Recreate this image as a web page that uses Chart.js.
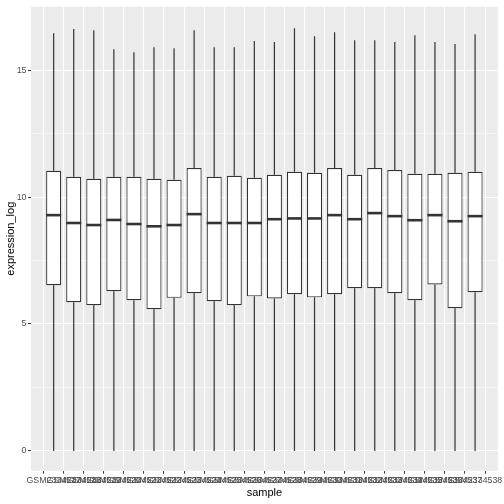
<!DOCTYPE html>
<html>
<head>
<meta charset="utf-8">
<script src="https://cdn.jsdelivr.net/npm/chart.js@4/dist/chart.umd.min.js"></script>
<style>
  html, body { margin: 0; padding: 0; background: #ffffff; }
  #wrap { width: 504px; height: 504px; }
</style>
</head>
<body>
<div id="wrap"><canvas id="c" width="504" height="504"></canvas></div>
<script>
const samples = ["GSM2334517","GSM2334518","GSM2334519","GSM2334520","GSM2334521","GSM2334522",
  "GSM2334523","GSM2334524","GSM2334525","GSM2334526","GSM2334527","GSM2334528",
  "GSM2334529","GSM2334530","GSM2334531","GSM2334532","GSM2334533","GSM2334534",
  "GSM2334535","GSM2334536","GSM2334537","GSM2334538"];
const whiskerMax = [16.46,16.62,16.58,15.83,15.71,15.91,15.87,16.58,15.91,15.91,16.15,
  16.11,16.65,16.34,16.50,16.18,16.18,16.11,16.38,16.11,16.03,16.42];
const upperQuartile = [11.04,10.80,10.72,10.80,10.80,10.72,10.68,11.15,10.80,10.84,10.76,
  10.88,11.00,10.96,11.15,10.88,11.15,11.07,10.92,10.92,10.96,11.00];
const medians = [9.29,8.98,8.90,9.10,8.94,8.85,8.90,9.33,8.98,8.98,8.98,
  9.13,9.16,9.16,9.29,9.13,9.37,9.25,9.09,9.29,9.05,9.25];
const lowerQuartile = [6.53,5.86,5.74,6.29,5.94,5.58,6.03,6.21,5.90,5.74,6.09,
  6.01,6.17,6.05,6.17,6.41,6.41,6.21,5.94,6.56,5.62,6.25];
const whiskerMin = [0,0,0,0,0,0,0,0,0,0,0,0,0,0,0,0,0,0,0,0,0,0];
const yTickValues = [0,2.5,5,7.5,10,12.5,15];

const FONT = "'Liberation Sans', Arial, sans-serif";
const INK = '#333333';

const panelBg = {
  id: 'panelBg',
  beforeDraw(chart) {
    const {ctx, chartArea: a} = chart;
    ctx.save();
    ctx.fillStyle = '#EBEBEB';
    ctx.fillRect(a.left, a.top, a.right - a.left, a.bottom - a.top);
    ctx.restore();
  }
};

const boxParts = {
  id: 'boxParts',
  afterDatasetsDraw(chart) {
    const {ctx} = chart;
    const ys = chart.scales.y;
    const meta = chart.getDatasetMeta(0);
    ctx.save();
    ctx.strokeStyle = INK;
    ctx.lineCap = 'butt';
    meta.data.forEach((el, i) => {
      const p = el.getProps(['x', 'width'], true);
      const x = p.x, w = p.width;
      ctx.lineWidth = 1.2;
      ctx.beginPath();
      ctx.moveTo(x, ys.getPixelForValue(whiskerMax[i]));
      ctx.lineTo(x, ys.getPixelForValue(upperQuartile[i]));
      ctx.moveTo(x, ys.getPixelForValue(lowerQuartile[i]));
      ctx.lineTo(x, ys.getPixelForValue(whiskerMin[i]));
      ctx.stroke();
      ctx.lineWidth = 2.6;
      ctx.beginPath();
      const ym = ys.getPixelForValue(medians[i]);
      ctx.moveTo(x - w / 2, ym);
      ctx.lineTo(x + w / 2, ym);
      ctx.stroke();
    });
    ctx.restore();
  }
};

new Chart(document.getElementById('c'), {
  type: 'bar',
  data: {
    datasets: [{
      data: samples.map((s, i) => ({x: i, y: [lowerQuartile[i], upperQuartile[i]]})),
      backgroundColor: '#FFFFFF',
      borderColor: INK,
      borderWidth: 1.2,
      borderSkipped: false,
      barPercentage: 0.75,
      categoryPercentage: 1.0
    }]
  },
  options: {
    responsive: false,
    animation: false,
    layout: { padding: { top: 5, right: 5.7, left: 0, bottom: 0 } },
    plugins: { legend: { display: false }, tooltip: { enabled: false } },
    scales: {
      x: {
        type: 'linear',
        min: -0.6,
        max: samples.length - 1 + 0.6,
        afterBuildTicks(scale) { scale.ticks = samples.map((s, i) => ({value: i})); },
        afterFit(scale) { scale.height = 33.3; },
        border: { display: false },
        grid: { color: '#FFFFFF', lineWidth: 1.1, drawTicks: true, tickLength: 3, tickColor: INK, tickWidth: 1 },
        ticks: {
          autoSkip: false, maxRotation: 0, minRotation: 0, padding: 1.5,
          color: '#4D4D4D', font: { family: FONT, size: 8.8 },
          callback: (v) => samples[v]
        },
        title: { display: true, text: 'sample', color: '#000000',
          font: { family: FONT, size: 11 }, padding: { top: 0, bottom: 4.9 } }
      },
      y: {
        type: 'linear',
        min: -0.78,
        max: 17.5,
        afterBuildTicks(scale) { scale.ticks = yTickValues.map(v => ({value: v})); },
        afterFit(scale) { scale.width = 31; },
        border: { display: false },
        grid: {
          color: '#FFFFFF',
          lineWidth: (c) => (c.tick && c.tick.value % 5 === 0) ? 1.1 : 0.55,
          drawTicks: true, tickLength: 3,
          tickColor: (c) => (c.tick && c.tick.value % 5 === 0) ? INK : 'rgba(0,0,0,0)',
          tickWidth: 1
        },
        ticks: {
          padding: 1.5, color: '#4D4D4D', font: { family: FONT, size: 8.8 },
          callback: (v) => (v % 5 === 0 ? String(v) : '')
        },
        title: { display: true, text: 'expression_log', color: '#000000',
          font: { family: FONT, size: 11 }, padding: { top: 4.4, bottom: 0 } }
      }
    }
  },
  plugins: [panelBg, boxParts]
});
</script>
</body>
</html>
